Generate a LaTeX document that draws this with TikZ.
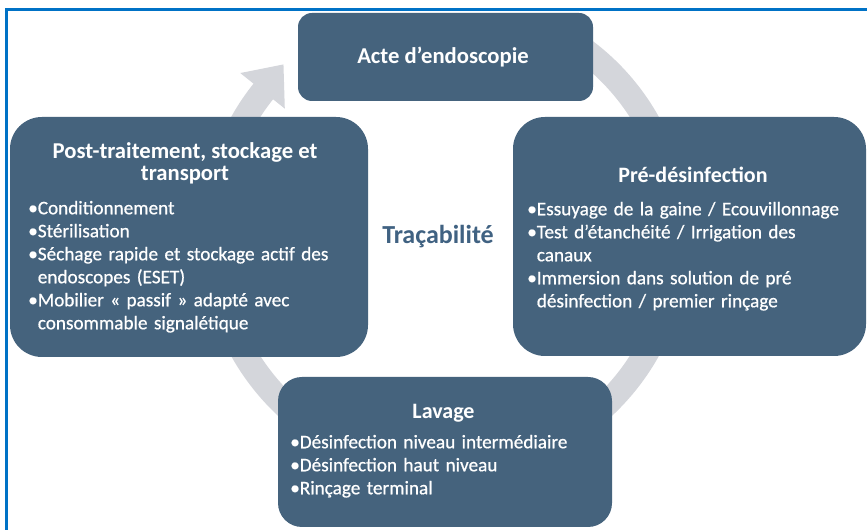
\documentclass[tikz,border=0pt]{standalone}
\usepackage{fontspec}
\setmainfont{Carlito}
\newfontfamily\itmfont{Carlito}[FakeBold=0.7]
\definecolor{boxc}{RGB}{69,99,125}
\definecolor{ringc}{RGB}{212,214,219}
\definecolor{framec}{RGB}{0,114,198}
\definecolor{tracec}{RGB}{64,98,130}
\newcommand\itm[1]{\par\noindent\setbox0\hbox{\textbullet}\hangindent=\wd0\hangafter=1\box0 #1\par}
\newcommand\nl{\hfil\break}
\begin{document}
\begin{tikzpicture}[x=0.75pt,y=0.75pt,
  box/.style={fill=boxc, rounded corners=#1, inner sep=0pt},
  ttl/.style={text=white, inner sep=0pt, align=center, font=\bfseries\fontsize{16.5}{16.5}\selectfont},
  lst/.style={text=white, inner sep=0pt, anchor=north west, text width=320pt, align=left, font=\itmfont\fontsize{14.4}{17.25}\selectfont},
  ring/.style={draw=ringc, line width=18.75pt}]
\useasboundingbox (0,0) rectangle (867,530);
\fill[white] (0,0) rectangle (867,530);
\coordinate (rc) at (445,293.5);
\draw[ring] ([shift={(rc)}]60:232.5) arc[start angle=60, end angle=-219, radius=232.5];
\fill[ringc] ([shift={(rc)}]141.4:205) -- ([shift={(rc)}]133.2:236) -- ([shift={(rc)}]141.4:262) -- cycle;
\node[box=10.5pt, minimum width=221.25pt, minimum height=66pt] (acte) at (445.5,473) {};
\node[box=24pt, minimum width=268.5pt, minimum height=180pt] (post) at (189,293) {};
\node[box=24pt, minimum width=264.75pt, minimum height=179.25pt] (pre) at (689.5,293.5) {};
\node[box=18pt, minimum width=250.5pt, minimum height=112.5pt] (lav) at (445,78) {};
\node[ttl, font=\bfseries\fontsize{17}{16.5}\selectfont] (actet) at (443,473) {Acte d’endoscopie};
\node[ttl, font=\bfseries\fontsize{17}{16.5}\selectfont] (postt) at (185,367) {Post-traitement, stockage et\\transport};
\node[lst] (postl) at (28,339) {\itm{Conditionnement}\itm{Stérilisation}\itm{Séchage rapide et stockage actif des\nl endoscopes (ESET)}\itm{Mobilier «~passif~» adapté avec\nl consommable signalétique}};
\node[ttl] (pret) at (693,355) {Pré-désinfection};
\node[lst] (prel) at (527,338) {\itm{Essuyage de la gaine / Ecouvillonnage}\itm{Test d’étanchéité / Irrigation des\nl canaux}\itm{Immersion dans solution de pré\nl désinfection / premier rinçage}};
\node[ttl] (lavt) at (443.5,117) {Lavage};
\node[lst] (lavl) at (290,105) {\itm{Désinfection niveau intermédiaire}\itm{Désinfection haut niveau}\itm{Rinçage terminal}};
\node[text=tracec, inner sep=0pt, font=\bfseries\fontsize{19.5}{20}\selectfont] (trac) at (438,293) {Traçabilité};
\draw[framec, line width=2.25pt] (6,0) -- (6,520.5) -- (867,520.5);
\end{tikzpicture}
\end{document}
